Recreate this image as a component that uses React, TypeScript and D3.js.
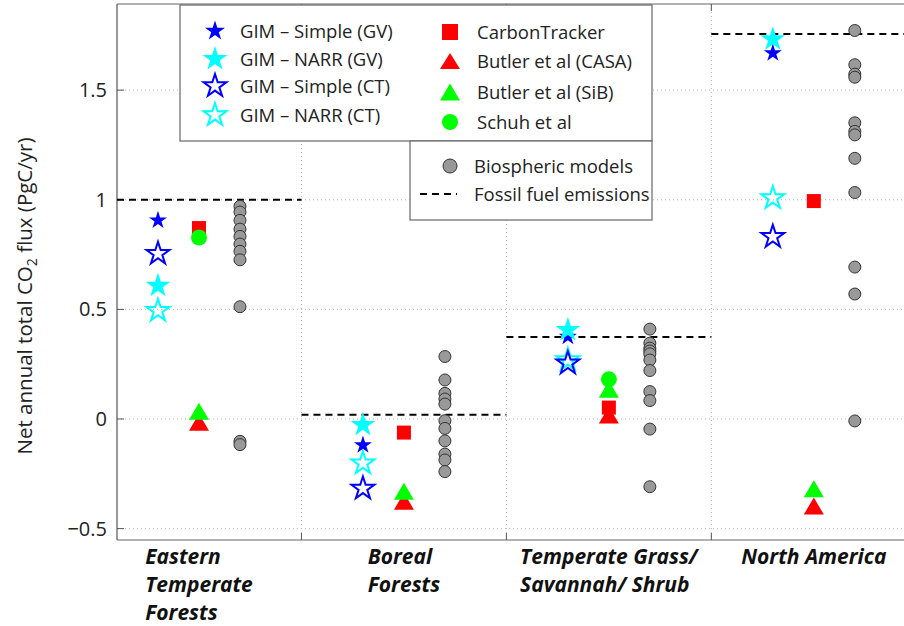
// @ts-nocheck
import { useEffect, useRef } from "react"
import * as d3 from "d3"

const categoryLines = [
  ["Eastern", "Temperate", "Forests"],
  ["Boreal", "Forests"],
  ["Temperate Grass/", "Savannah/ Shrub"],
  ["North America"],
]

const yTicks = [-0.5, 0, 0.5, 1, 1.5]
const yTickLabels = ["−0.5", "0", "0.5", "1", "1.5"]

const gimSimpleGV = [0.906, -0.119, 0.376, 1.669]
const gimNarrGV = [0.608, -0.027, 0.406, 1.732]
const gimSimpleCT = [0.754, -0.317, 0.254, 0.831]
const gimNarrCT = [0.494, -0.202, 0.269, 1.008]
const carbonTracker = [0.871, -0.062, 0.052, 0.994]
const butlerCASA = [-0.015, -0.375, 0.018, -0.397]
const butlerSiB = [0.035, -0.33, 0.136, -0.318]
const schuh = [0.828, null, 0.181, null]
const fossilFuel = [1.0, 0.019, 0.374, 1.756]

const biospheric = [
  [0.97, 0.944, 0.906, 0.866, 0.833, 0.798, 0.765, 0.726, 0.512, -0.102, -0.117],
  [0.285, 0.178, 0.117, 0.091, 0.068, -0.008, -0.043, -0.1, -0.16, -0.187, -0.24],
  [0.41, 0.346, 0.323, 0.31, 0.297, 0.269, 0.221, 0.125, 0.084, -0.046, -0.309],
  [1.772, 1.616, 1.573, 1.559, 1.351, 1.312, 1.296, 1.189, 1.033, 0.693, 0.57, -0.009],
]

const BLUE = "#0000ff"
const CYAN = "#00ffff"
const RED = "#ff0000"
const GREEN = "#00ff00"
const FONT = "'Open Sans', 'DejaVu Sans', sans-serif"

const starPath = (r) => d3.symbol().type(d3.symbolStar).size((r * r) / 0.8908130915292852)()
const triPath = (w, h) => `M0,${-h / 2}L${w / 2},${h / 2}L${-w / 2},${h / 2}Z`

export default function App() {
  const svgRef = useRef(null)

  useEffect(() => {
    const width = 904
    const height = 626
    const left = 117
    const right = 904
    const top = 4
    const bottom = 540

    const svg = d3.select(svgRef.current)
    svg.selectAll("*").remove()
    svg.attr("width", width).attr("height", height)

    const x = d3.scaleLinear().domain([0.6, 4.44]).range([left, right])
    const y = d3.scaleLinear().domain([-0.552, 1.893]).range([bottom, top])

    // grid
    const grid = svg.append("g")
    grid
      .selectAll("line.h")
      .data(yTicks)
      .join("line")
      .attr("x1", left)
      .attr("x2", right)
      .attr("y1", (d) => y(d))
      .attr("y2", (d) => y(d))
      .attr("stroke", "#b5b5b5")
      .attr("stroke-dasharray", "1,3")
    grid
      .selectAll("line.v")
      .data([1.5, 2.5, 3.5])
      .join("line")
      .attr("x1", (d) => x(d))
      .attr("x2", (d) => x(d))
      .attr("y1", top)
      .attr("y2", bottom)
      .attr("stroke", "#b5b5b5")
      .attr("stroke-dasharray", "1,3")

    // axes box
    svg.append("line").attr("x1", left).attr("x2", right).attr("y1", top).attr("y2", top)
      .attr("stroke", "#999").attr("stroke-width", 1.5)
    svg.append("line").attr("x1", left).attr("x2", right).attr("y1", bottom).attr("y2", bottom)
      .attr("stroke", "#999").attr("stroke-width", 1.5)
    svg.append("line").attr("x1", left).attr("x2", left).attr("y1", top).attr("y2", bottom)
      .attr("stroke", "#555").attr("stroke-width", 1.2)

    // ticks
    svg.append("g").selectAll("line").data(yTicks).join("line")
      .attr("x1", left).attr("x2", left + 7)
      .attr("y1", (d) => y(d)).attr("y2", (d) => y(d))
      .attr("stroke", "#555")
    ;[bottom, top].forEach((yy) => {
      svg.append("g").selectAll("line").data([1.5, 2.5, 3.5]).join("line")
        .attr("x1", (d) => x(d)).attr("x2", (d) => x(d))
        .attr("y1", yy).attr("y2", yy === bottom ? yy - 7 : yy + 7)
        .attr("stroke", "#555")
    })

    svg.append("g").selectAll("text").data(yTicks).join("text")
      .attr("x", 107)
      .attr("y", (d) => y(d) + 7)
      .attr("text-anchor", "end")
      .attr("font-family", FONT)
      .attr("font-size", 20)
      .attr("fill", "#222")
      .text((d, i) => yTickLabels[i])

    // y label
    const yl = svg.append("text")
      .attr("transform", "translate(32,296) rotate(-90)")
      .attr("text-anchor", "middle")
      .attr("font-family", FONT)
      .attr("font-size", 20.5)
      .attr("fill", "#222")
    yl.append("tspan").text("Net annual total CO")
    yl.append("tspan").attr("font-size", 14).attr("dy", 5).text("2")
    yl.append("tspan").attr("dy", -5).text(" flux (PgC/yr)")

    // category labels
    categoryLines.forEach((lines, i) => {
      const g = svg.append("g")
      const t = g.selectAll("text").data(lines).join("text")
        .attr("y", (d, j) => 564 + j * 28)
        .attr("font-family", FONT)
        .attr("font-size", 21)
        .attr("font-weight", "bold")
        .attr("font-style", "italic")
        .attr("fill", "#111")
        .text((d) => d)
      let w = 0
      t.each(function () { w = Math.max(w, this.getComputedTextLength()) })
      t.attr("x", x(i + 1) - w / 2)
    })

    const plot = svg.append("g")

    // fossil fuel lines
    plot.selectAll("line.ff").data(fossilFuel).join("line")
      .attr("x1", (d, i) => Math.max(left, x(i + 0.5)))
      .attr("x2", (d, i) => Math.min(right, x(i + 1.5)))
      .attr("y1", (d) => y(d)).attr("y2", (d) => y(d))
      .attr("stroke", "#000").attr("stroke-width", 2)
      .attr("stroke-dasharray", "7,5")

    // biospheric models
    biospheric.forEach((vals, i) => {
      plot.append("g").selectAll("circle").data(vals).join("circle")
        .attr("cx", x(i + 1.2)).attr("cy", (d) => y(d)).attr("r", 6)
        .attr("fill", "#999").attr("stroke", "#333").attr("stroke-width", 1)
    })

    const drawStars = (vals, r, color, filled) => {
      plot.append("g").selectAll("path").data(vals).join("path")
        .attr("d", starPath(r))
        .attr("transform", (d, i) => `translate(${x(i + 0.8)},${y(d)})`)
        .attr("fill", filled ? color : "none")
        .attr("stroke", filled ? "none" : color)
        .attr("stroke-width", 2)
    }
    drawStars(gimNarrCT, 12, CYAN, false)
    drawStars(gimSimpleCT, 12, BLUE, false)
    drawStars(gimSimpleGV, 9.5, BLUE, true)
    drawStars(gimNarrGV, 13, CYAN, true)

    plot.append("g").selectAll("rect").data(carbonTracker).join("rect")
      .attr("x", (d, i) => x(i + 1) - 7).attr("y", (d) => y(d) - 7)
      .attr("width", 14).attr("height", 14).attr("fill", RED)
    ;[[butlerCASA, RED], [butlerSiB, GREEN]].forEach(([vals, color]) => {
      plot.append("g").selectAll("path").data(vals).join("path")
        .attr("d", triPath(20, 17))
        .attr("transform", (d, i) => `translate(${x(i + 1)},${y(d)})`)
        .attr("fill", color)
    })
    plot.append("g").selectAll("circle")
      .data(schuh.map((v, i) => ({ v, i })).filter((d) => d.v != null))
      .join("circle")
      .attr("cx", (d) => x(d.i + 1)).attr("cy", (d) => y(d.v)).attr("r", 8)
      .attr("fill", GREEN)

    // legend
    const lg = svg.append("g").attr("font-family", FONT).attr("font-size", 18.5).attr("fill", "#222")
    lg.append("rect").attr("x", 180).attr("y", 5).attr("width", 472).attr("height", 136)
      .attr("fill", "#fff").attr("stroke", "#666").attr("stroke-width", 1.2)
    lg.append("rect").attr("x", 410).attr("y", 141).attr("width", 242).attr("height", 79)
      .attr("fill", "#fff").attr("stroke", "#666").attr("stroke-width", 1.2)

    const leftItems = [
      { label: "GIM – Simple (GV)", r: 10.5, color: BLUE, filled: true },
      { label: "GIM – NARR (GV)", r: 13, color: CYAN, filled: true },
      { label: "GIM – Simple (CT)", r: 12, color: BLUE, filled: false },
      { label: "GIM – NARR (CT)", r: 12, color: CYAN, filled: false },
    ]
    const leftRows = [31, 59, 86, 115]
    leftItems.forEach((it, i) => {
      lg.append("path").attr("d", starPath(it.r))
        .attr("transform", `translate(215,${leftRows[i]})`)
        .attr("fill", it.filled ? it.color : "none")
        .attr("stroke", it.filled ? "none" : it.color).attr("stroke-width", 2)
      lg.append("text").attr("x", 240).attr("y", leftRows[i] + 7).text(it.label)
    })

    const rightRows = [32, 61, 92, 122]
    lg.append("rect").attr("x", 442).attr("y", rightRows[0] - 8).attr("width", 16).attr("height", 16).attr("fill", RED)
    lg.append("path").attr("d", triPath(20, 16)).attr("transform", `translate(450,${rightRows[1]})`).attr("fill", RED)
    lg.append("path").attr("d", triPath(20, 17)).attr("transform", `translate(450,${rightRows[2]})`).attr("fill", GREEN)
    lg.append("circle").attr("cx", 450).attr("cy", rightRows[3]).attr("r", 8).attr("fill", GREEN)
    ;["CarbonTracker", "Butler et al (CASA)", "Butler et al (SiB)", "Schuh et al"].forEach((t, i) => {
      lg.append("text").attr("x", 477).attr("y", rightRows[i] + 7).text(t)
    })

    lg.append("circle").attr("cx", 450).attr("cy", 166).attr("r", 7)
      .attr("fill", "#999").attr("stroke", "#333")
    lg.append("text").attr("x", 474).attr("y", 173).text("Biospheric models")
    lg.append("line").attr("x1", 420).attr("x2", 457).attr("y1", 194).attr("y2", 194)
      .attr("stroke", "#000").attr("stroke-width", 2).attr("stroke-dasharray", "7,5")
    lg.append("text").attr("x", 474).attr("y", 201).text("Fossil fuel emissions")
  }, [])

  return (
    <div style={{ position: "absolute", left: 0, top: 0, background: "#fff" }}>
      <svg ref={svgRef} style={{ display: "block" }} />
    </div>
  )
}
